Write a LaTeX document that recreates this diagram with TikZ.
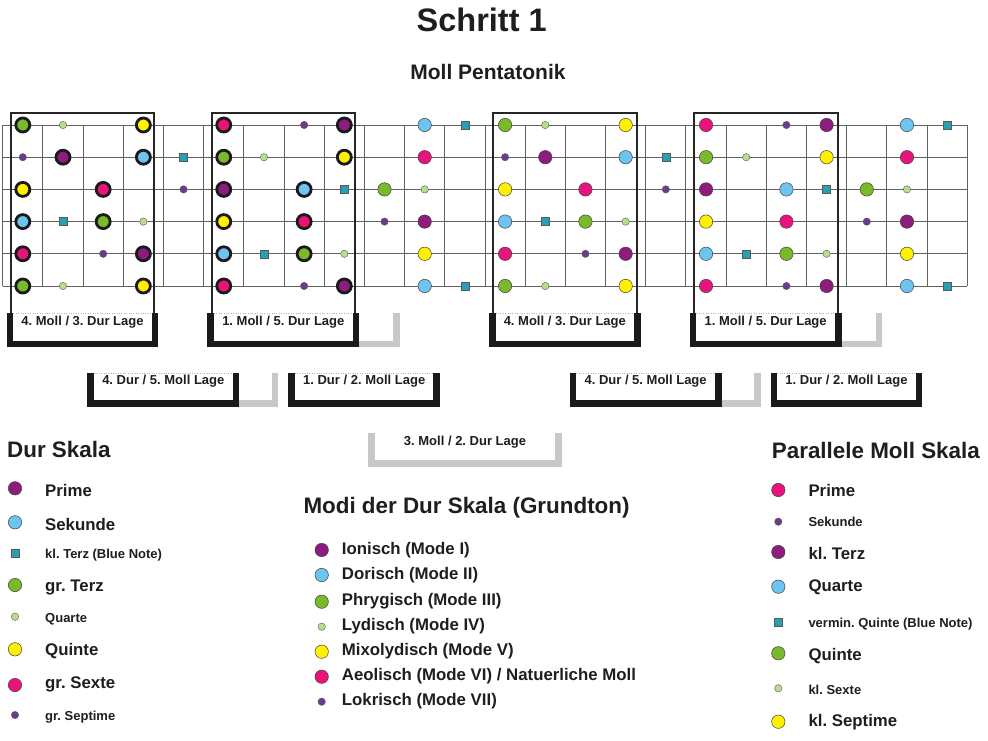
\documentclass[tikz,border=0pt]{standalone}
\usepackage{fontspec}
\setmainfont{Liberation Sans}
\frenchspacing
\definecolor{cPrime}{RGB}{142,28,126}
\definecolor{cSek}{RGB}{110,196,240}
\definecolor{cBlue}{RGB}{38,160,178}
\definecolor{cTerz}{RGB}{122,186,42}
\definecolor{cQuart}{RGB}{186,220,142}
\definecolor{cQuint}{RGB}{255,240,0}
\definecolor{cSext}{RGB}{232,20,124}
\definecolor{cSept}{RGB}{106,60,140}
\definecolor{cBlack}{RGB}{26,26,26}
\definecolor{cGray}{RGB}{200,200,200}
\definecolor{cText}{RGB}{30,30,30}
\newcommand\bracketU[5]{%
  \draw[#5] ({#1+3.3},#3) -- ({#1+3.3},{#4-3.3}) -- ({#2-3.3},{#4-3.3}) -- ({#2-3.3},#3);}
\newcommand\bracketL[4]{% from x1 (hidden start) to x2, ytop, ybot
  \draw[brkg] ({#1},{#4-3.3}) -- ({#2-3.3},{#4-3.3}) -- ({#2-3.3},#3);}
\newcommand\topdots[3]{%
  \draw[draw=black!30, dotted, line width=0.4pt] ({#1+6.6},#3) -- ({#2-6.6},#3);}
\begin{document}
\begin{tikzpicture}[x=1pt,y=-1pt,
  fret/.style={draw=black!62, line width=0.9pt},
  boxline/.style={draw=black!85, line width=2pt},
  bigplain/.style={circle, draw=black!75, line width=0.5pt, minimum size=13.4pt, inner sep=0pt},
  bigring/.style={circle, draw=cBlack, line width=2.8pt, minimum size=14pt, inner sep=0pt},
  dotsmall/.style={circle, draw=black!65, line width=0.4pt, minimum size=7.4pt, inner sep=0pt},
  sq/.style={rectangle, draw=black!65, line width=0.4pt, minimum size=8pt, inner sep=0pt, fill=cBlue},
  brk/.style={line width=6.6pt, draw=cBlack, line join=miter, line cap=butt},
  brkg/.style={line width=6.6pt, draw=cGray, line join=miter, line cap=butt},
  lbl/.style={font=\bfseries\fontsize{13}{14}\selectfont, text=cText, inner sep=0pt},
  bigtxt/.style={font=\bfseries\fontsize{16.8}{18}\selectfont, text=cText, anchor=west, inner sep=0pt},
  smalltxt/.style={font=\bfseries\fontsize{13}{14}\selectfont, text=cText, anchor=west, inner sep=0pt},
  head/.style={font=\bfseries\fontsize{22.4}{24}\selectfont, text=cText, anchor=base west, inner sep=0pt}
]
\useasboundingbox (0,0) rectangle (988,741);
\fill[white] (0,0) rectangle (988,741);

% titles
\node[font=\bfseries\fontsize{32.5}{36}\selectfont, text=cText, inner sep=0pt] (title) at (481.7,20) {Schritt 1};
\node[font=\bfseries\fontsize{21}{23}\selectfont, text=cText, inner sep=0pt] (sub) at (488,71.5) {Moll Pentatonik};

% fretboard
\foreach \r in {0,...,5} \draw[fret] (2.7,{125+32.2*\r}) -- (967.3,{125+32.2*\r});
\foreach \j in {0,...,24} \draw[fret] ({2.7+40.19*\j},125) -- ({2.7+40.19*\j},286);

% gray shadow brackets
\foreach \s in {0,482.3}{
  \bracketL{350+\s}{400+\s}{313}{347.3}
  \bracketL{230+\s}{278.3+\s}{372.7}{406.7}
}
\bracketU{368.3}{561.7}{433.3}{466.7}{brkg}

% boxes
\foreach \s in {0,482.3}{
  \draw[boxline] ({10.8+\s},313) -- ({10.8+\s},113.3) -- ({154.4+\s},113.3) -- ({154.4+\s},313);
  \draw[boxline] ({211.8+\s},313) -- ({211.8+\s},113.3) -- ({355.3+\s},113.3) -- ({355.3+\s},313);
}

% black brackets
\foreach \s in {0,482.3}{
  \bracketU{6.7+\s}{158.3+\s}{313}{347.3}{brk}
  \topdots{6.7+\s}{158.3+\s}{313}
  \bracketU{207.3+\s}{359.3+\s}{313}{347.3}{brk}
  \topdots{207.3+\s}{359.3+\s}{313}
  \bracketU{87.3+\s}{239.3+\s}{372.7}{406.7}{brk}
  \topdots{87.3+\s}{239.3+\s}{372.7}
  \bracketU{288.3+\s}{440+\s}{372.7}{406.7}{brk}
  \topdots{288.3+\s}{440+\s}{372.7}
}

% bracket labels
\node[lbl] (l1) at (82.5,321.7) {4. Moll / 3. Dur Lage};
\node[lbl] (l2) at (283.3,321.7) {1. Moll / 5. Dur Lage};
\node[lbl] (l3) at (564.8,321.7) {4. Moll / 3. Dur Lage};
\node[lbl] (l4) at (765.6,321.7) {1. Moll / 5. Dur Lage};
\node[lbl] (l5) at (163.3,380.7) {4. Dur / 5. Moll Lage};
\node[lbl] (l6) at (364.2,380.7) {1. Dur / 2. Moll Lage};
\node[lbl] (l7) at (645.6,380.7) {4. Dur / 5. Moll Lage};
\node[lbl] (l8) at (846.5,380.7) {1. Dur / 2. Moll Lage};
\node[lbl] (l9) at (465,441.7) {3. Moll / 2. Dur Lage};

% dots on the fretboard
\foreach \k in {0,...,23}{
  \foreach \r/\b in {0/4,1/11,2/7,3/2,4/9,5/4}{
    \pgfmathtruncatemacro{\nn}{mod(\b+\k,12)}
    \pgfmathsetmacro{\xx}{22.8+40.19*\k}
    \pgfmathsetmacro{\yy}{125+32.2*\r}
    \tikzset{cur/.style={bigplain}}
    \ifnum\k<4 \tikzset{cur/.style={bigring}}\fi
    \ifnum\k>4 \ifnum\k<9 \tikzset{cur/.style={bigring}}\fi\fi
    \ifcase\nn
      \node[cur, fill=cPrime] (d\k-\r) at (\xx,\yy) {};
    \or
    \or \node[cur, fill=cSek] (d\k-\r) at (\xx,\yy) {};
    \or \node[sq] (d\k-\r) at (\xx,\yy) {};
    \or \node[cur, fill=cTerz] (d\k-\r) at (\xx,\yy) {};
    \or \node[dotsmall, fill=cQuart] (d\k-\r) at (\xx,\yy) {};
    \or
    \or \node[cur, fill=cQuint] (d\k-\r) at (\xx,\yy) {};
    \or
    \or \node[cur, fill=cSext] (d\k-\r) at (\xx,\yy) {};
    \or
    \or \node[dotsmall, fill=cSept] (d\k-\r) at (\xx,\yy) {};
    \fi
  }
}

% Dur Skala legend
\node[head] (hdur) at (7,457.3) {Dur Skala};
\node[bigplain, fill=cPrime] (a1) at (15,488.3) {};
\node[bigtxt] (ta1) at (45,490.3) {Prime};
\node[bigplain, fill=cSek] (a2) at (15,522.3) {};
\node[bigtxt] (ta2) at (45,524.3) {Sekunde};
\node[sq] (a3) at (15,553.3) {};
\node[smalltxt] (ta3) at (45,555.5) {kl. Terz (Blue Note)};
\node[bigplain, fill=cTerz] (a4) at (15,585) {};
\node[bigtxt] (ta4) at (45,587) {\vphantom{P}gr. Terz};
\node[dotsmall, fill=cQuart] (a5) at (15,616.7) {};
\node[smalltxt] (ta5) at (45,619) {Quarte};
\node[bigplain, fill=cQuint] (a6) at (15,649.3) {};
\node[bigtxt] (ta6) at (45,651.5) {Quinte};
\node[bigplain, fill=cSext] (a7) at (15,685) {};
\node[bigtxt] (ta7) at (45,684.5) {gr. Sexte};
\node[dotsmall, fill=cSept] (a8) at (15,715) {};
\node[smalltxt] (ta8) at (45,716.7) {gr. Septime};

% Modi legend
\node[head] (hmod) at (303.3,513.3) {Modi der Dur Skala (Grundton)};
\node[bigplain, fill=cPrime] (m1) at (321.7,550) {};
\node[bigtxt] (tm1) at (341.7,550) {Ionisch (Mode I)};
\node[bigplain, fill=cSek] (m2) at (321.7,575) {};
\node[bigtxt] (tm2) at (341.7,575.5) {Dorisch (Mode II)};
\node[bigplain, fill=cTerz] (m3) at (321.7,601.7) {};
\node[bigtxt] (tm3) at (341.7,601.5) {Phrygisch (Mode III)};
\node[dotsmall, fill=cQuart] (m4) at (321.7,626.7) {};
\node[bigtxt] (tm4) at (341.7,626.5) {Lydisch (Mode IV)};
\node[bigplain, fill=cQuint] (m5) at (321.7,651.7) {};
\node[bigtxt] (tm5) at (341.7,651.5) {Mixolydisch (Mode V)};
\node[bigplain, fill=cSext] (m6) at (321.7,676.7) {};
\node[bigtxt] (tm6) at (341.7,676.5) {Aeolisch (Mode VI) / Natuerliche Moll};
\node[dotsmall, fill=cSept] (m7) at (321.7,701.7) {};
\node[bigtxt] (tm7) at (341.7,701.5) {Lokrisch (Mode VII)};

% Parallele Moll Skala legend
\node[head] (hmoll) at (771.7,458.3) {Parallele Moll Skala};
\node[bigplain, fill=cSext] (p1) at (778.3,490) {};
\node[bigtxt] (tp1) at (808.3,490.7) {Prime};
\node[dotsmall, fill=cSept] (p2) at (778.3,521.7) {};
\node[smalltxt] (tp2) at (808.3,522) {Sekunde};
\node[bigplain, fill=cPrime] (p3) at (778.3,552) {};
\node[bigtxt] (tp3) at (808.3,553) {kl. Terz};
\node[bigplain, fill=cSek] (p4) at (778.3,586.7) {};
\node[bigtxt] (tp4) at (808.3,587) {Quarte};
\node[sq] (p5) at (778.3,621.7) {};
\node[smalltxt] (tp5) at (808.3,624) {vermin. Quinte (Blue Note)};
\node[bigplain, fill=cTerz] (p6) at (778.3,653.3) {};
\node[bigtxt] (tp6) at (808.3,655.7) {Quinte};
\node[dotsmall, fill=cQuart] (p7) at (778.3,688.3) {};
\node[smalltxt] (tp7) at (808.3,690) {kl. Sexte};
\node[bigplain, fill=cQuint] (p8) at (778.3,721.7) {};
\node[bigtxt] (tp8) at (808.3,722.3) {kl. Septime};
\end{tikzpicture}
\end{document}
